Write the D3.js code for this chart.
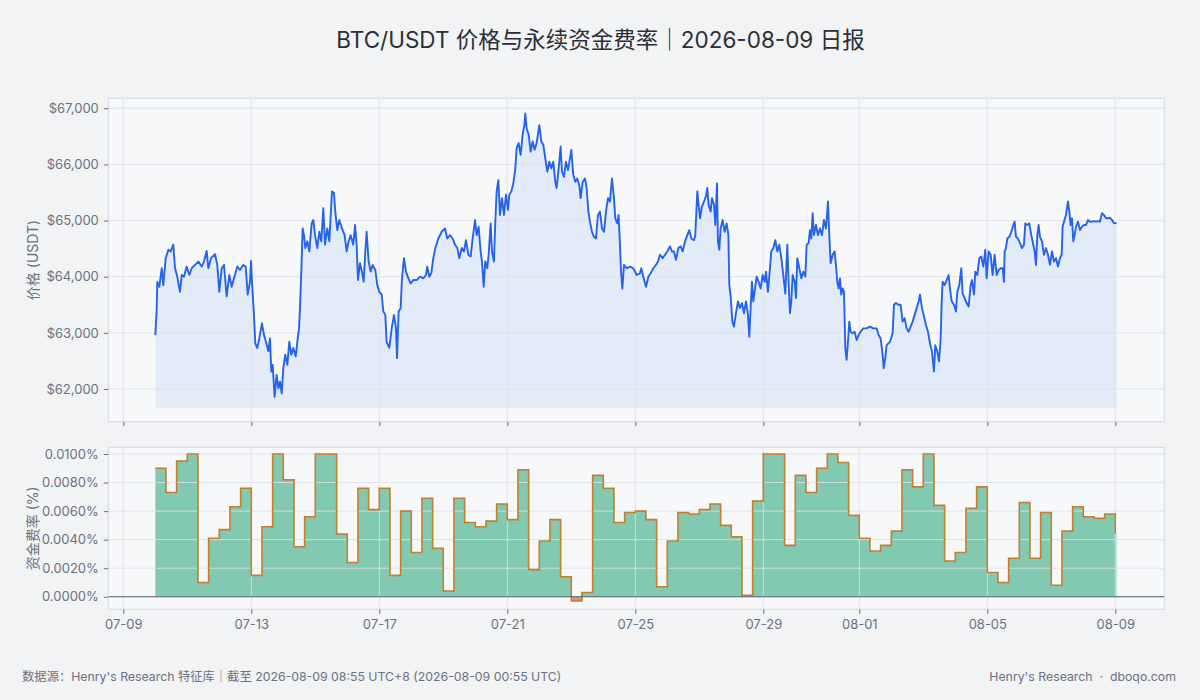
<!DOCTYPE html>
<html><head><meta charset="utf-8">
<script src="https://cdn.jsdelivr.net/npm/d3@7/dist/d3.min.js"></script>
<style>
body{margin:0;background:#f2f3f5;}
svg{display:block;font-family:Inter,"Noto Sans CJK SC","Noto Sans",sans-serif;}
</style></head><body>
<svg id="chart" width="1200" height="700"></svg>
<script>
// ---------------- data ----------------
const START_UTC = Date.UTC(2026, 6, 10, 0, 0);   // 2026-07-10 00:00 UTC
// [hours since start, price USDT]
const pricePoints = [
[0,62960],[1.0,63380],[1.5,63910],[3.0,63820],[4.8,64150],[6.0,63850],[7.8,64330],[9.8,64480],[11.5,64450],[13.5,64570],[14.8,64150],[16.5,64000],[18.5,63730],[19.8,64030],[21.5,64000],[23.5,64180],[25.5,64030],[27.3,64150],[29.8,64210],[32.3,64270],[34.8,64180],[36.5,64270],[38.5,64460],[39.8,64150],[41.8,64330],[44.8,64400],[46.5,64210],[48.0,63730],[49.8,64150],[51.5,64210],[53.5,63650],[55.5,64030],[57.3,63820],[59.3,64000],[61.5,64180],[63.5,64120],[66.0,64210],[67.8,64180],[69.3,63680],[71.0,63910],[71.8,64280],[72.8,63790],[74.0,63320],[75.0,62810],[76.5,62730],[78.0,62900],[80.0,63170],[81.5,62960],[83.0,62840],[84.8,62670],[86.0,62900],[87.0,62310],[88.0,62430],[89.5,61860],[91.0,62250],[92.3,62010],[93.5,62130],[94.8,61920],[96.0,62370],[97.5,62610],[99.0,62430],[100.5,62840],[102.0,62610],[103.5,62730],[105.3,62580],[106.5,62840],[107.8,63080],[108.5,63440],[109.5,64090],[110.5,64860],[111.5,64740],[112.5,64510],[114.0,64630],[115.5,64450],[117.3,64950],[118.5,65010],[119.8,64740],[121.5,64510],[123.0,64800],[124.5,64630],[126.0,65220],[127.3,64570],[129.0,64860],[130.5,64630],[132.5,65520],[134.0,65490],[135.0,65160],[136.5,64830],[138.0,65010],[140.0,64860],[142.0,64740],[143.5,64450],[145.0,64630],[146.5,64740],[148.5,64570],[149.8,64920],[151.0,64570],[152.0,63940],[153.5,64240],[155.0,64090],[156.3,63910],[157.5,64450],[158.5,64800],[160.0,64270],[161.5,64090],[163.0,64210],[165.0,64120],[166.5,63850],[168.0,63730],[169.8,63680],[171.0,63380],[172.5,63320],[173.5,62840],[175.5,62730],
[177.3,63080],[179.0,63320],[180.5,63080],[181.3,62550],[182.5,63380],[184.0,63440],[185.0,63970],[186.5,64330],[188.0,64090],[189.8,63970],[191.5,63880],[193.5,63940],[196.0,63940],[198.5,64000],[201.0,63970],[203.0,64030],[204.0,64180],[205.5,64000],[207.0,64060],[208.5,64330],[210.0,64510],[212.3,64680],[214.8,64800],[217.3,64860],[219.0,64680],[221.0,64740],[223.0,64680],[224.8,64570],[226.5,64510],[228.0,64330],[229.8,64510],[231.5,64450],[233.0,64650],[234.8,64390],[236.5,64360],[238.0,64680],[239.8,65010],[241.0,64740],[242.5,64890],[244.0,64450],[245.0,64270],[246.3,63820],[247.5,64270],[249.0,64150],[250.0,64390],[251.5,64950],[252.5,64450],[254.0,64270],[255.0,64980],[256.0,65520],[257.3,65720],[258.5,65100],[260.0,65400],[261.5,65100],[263.0,65460],[264.5,65190],[265.5,65460],[267.0,65520],[268.5,65660],[270.0,65930],[271.0,66290],[272.5,66380],[274.0,66170],[275.5,66530],[276.8,66700],[277.5,66910],[278.5,66640],[280.0,66530],[281.5,66230],[283.0,66410],[284.5,66260],[286.0,66380],[288.0,66700],[289.5,66410],[291.0,66350],[292.5,66110],[294.0,65870],[295.5,66050],[297.0,65930],[298.5,66050],[300.0,65690],[301.0,65580],[302.5,65930],[304.0,66320],[305.0,65870],[306.5,65780],[308.0,66050],[309.5,65900],[311.0,66110],[312.0,66260],[313.5,65810],[315.0,65690],[316.5,65750],[318.0,65630],[319.0,65400],[320.5,65690],[322.3,65750],[323.5,65580],[324.8,65160],[326.0,64980],[327.5,64800],[329.0,64710],[330.5,64680],[332.0,65100],[333.5,65160],[335.0,64860],[336.5,64800],[338.0,65160],[339.5,65400],[341.0,65340],[342.5,65750],[344.0,65400],[345.0,65040],[346.5,64950],[347.5,65100],[348.5,64570],[349.3,64090],[350.3,63790],[351.5,64210],[353.5,64150],[356.0,64180],[358.5,64150],[361.0,64030],[363.5,64060],
[364.5,64150],[366.0,64000],[368.0,63820],[369.8,64000],[371.5,64060],[373.5,64150],[375.5,64210],[377.0,64270],[378.5,64390],[380.5,64330],[382.3,64390],[384.0,64450],[386.0,64540],[387.5,64450],[389.0,64450],[390.5,64300],[392.3,64510],[394.0,64540],[395.5,64450],[397.3,64630],[399.0,64740],[400.5,64830],[402.0,64680],[404.0,64650],[405.0,64740],[405.8,65160],[406.5,65520],[407.5,65280],[408.5,65040],[410.0,65250],[411.5,65340],[413.0,65430],[414.0,65580],[415.0,65280],[416.5,65160],[417.5,65400],[419.0,65280],[420.0,64920],[421.3,65660],[422.0,64630],[423.0,64480],[424.0,64860],[425.5,65010],[427.0,64800],[428.5,64950],[429.8,64740],[430.5,63850],[431.5,63650],[432.8,63200],[434.0,63110],[435.5,63350],[437.0,63560],[438.5,63440],[440.0,63530],[441.5,63350],[443.0,63560],[444.5,63320],[445.5,62930],[446.5,63440],[447.5,63910],[448.5,63560],[449.8,63790],[451.0,64000],[452.5,63910],[454.0,63790],[455.5,64030],[457.0,63910],[458.0,64090],[459.5,63730],[461.0,64150],[462.0,64450],[463.5,64510],[465.0,64650],[466.5,64450],[468.0,64570],[469.5,64330],[471.0,64030],[472.5,63700],[474.0,64570],[475.0,63910],[476.0,63350],[477.0,63560],[478.0,64030],[479.5,63910],[480.5,63620],[481.5,64330],[483.0,64150],[484.5,63970],[486.0,64090],[487.5,64000],[488.5,64570],[490.0,64600],[491.0,64830],[492.0,64680],[493.0,65130],[494.0,64740],[495.5,64920],[497.0,64740],[498.5,64860],[500.0,64740],[501.5,65010],[503.0,64860],[504.5,65340],[505.5,64740],[506.5,64240],[508.0,64390],[509.5,64450],[510.5,64210],[511.5,63910],[512.5,63790],[513.5,63970],[514.5,63680],[515.5,63790],[516.5,63730],[517.5,62730],[518.5,62520],[519.5,62840],[520.5,63200],[521.5,63020],[523.0,62990],[524.5,63020],[526.0,62870],[527.5,62960],[529.0,63020],[531.0,63080],[533.5,63080],[536.0,63110],[538.5,63080],[541.0,63080],[542.5,62960],[544.0,62900],[545.5,62610],[546.3,62370],[547.5,62550],[548.5,62780],[551.0,62840],
[553.0,62990],[554.0,63500],[555.5,63530],[557.3,63500],[559.0,63500],[560.5,63200],[562.0,63260],[563.5,63080],[565.0,63020],[566.5,63110],[568.0,63200],[569.5,63320],[571.0,63440],[572.5,63560],[573.5,63680],[575.0,63440],[576.5,63290],[578.0,63140],[579.5,63020],[581.0,62810],[582.5,62670],[584.0,62310],[585.0,62780],[586.5,62670],[587.8,62490],[589.0,62900],[589.8,63560],[590.5,63910],[592.0,63850],[593.5,63940],[595.0,64030],[596.0,63790],[597.3,63560],[599.0,63500],[600.5,63380],[601.5,63730],[603.0,63850],[604.5,64150],[605.5,63700],[607.0,63620],[608.5,63530],[610.0,63470],[611.5,63850],[612.5,63940],[614.0,63680],[615.0,64090],[616.5,64030],[618.0,64330],[619.5,64360],[621.0,64180],[622.5,64480],[623.5,63970],[625.0,64450],[626.5,64390],[628.0,64030],[629.5,64390],[631.0,64030],[632.5,64120],[634.0,64150],[635.5,64150],[636.5,63910],[637.0,64450],[638.0,64510],[639.0,64680],[640.5,64710],[642.0,64800],[643.5,64920],[644.5,64980],[645.5,64710],[647.0,64680],[648.5,64600],[650.0,64510],[651.5,64570],[652.5,64950],[654.0,64920],[655.5,64950],[657.0,64740],[658.5,64570],[659.5,64450],[660.5,64210],[661.5,64740],[662.5,64920],[663.5,64710],[665.0,64630],[666.5,64390],[668.0,64510],[669.5,64390],[671.0,64210],[672.5,64450],[674.0,64270],[675.5,64330],[677.0,64180],[678.5,64330],[679.8,64390],[680.5,64890],[681.5,64980],[683.0,65100],[684.5,65340],[685.5,65160],[686.5,64920],[687.5,65040],[688.5,64630],[689.5,64740],[690.5,64890],[692.0,64980],[693.5,64830],[695.0,64890],[696.5,64920],[698.0,64920],[699.5,65010],[701.0,64980],[702.5,64980],[704.0,64990],[705.5,64980],[707.0,64990],[708.5,64980],[710.0,65130],[711.5,65100],[713.0,65040],[714.5,65040],[716.0,65050],[717.5,65010],[719.0,64950],[720.9,64960]
];
// 8-hourly funding rate, in percent
const fundingRates = [
0.0090,0.0073,0.0095,0.0100,0.0010,0.0041,0.0047,0.0063,0.0076,0.0015,
0.0049,0.0100,0.0082,0.0035,0.0056,0.0100,0.0100,0.0044,0.0024,0.0076,
0.0061,0.0076,0.0015,0.0060,0.0031,0.0069,0.0034,0.0004,0.0069,0.0052,
0.0049,0.0053,0.0065,0.0054,0.0089,0.0019,0.0039,0.0054,0.0014,-0.0003,
0.0003,0.0085,0.0076,0.0052,0.0059,0.0060,0.0054,0.0007,0.0039,0.0059,
0.0058,0.0061,0.0065,0.0050,0.0042,0.0001,0.0067,0.0100,0.0100,0.0036,
0.0085,0.0073,0.0090,0.0100,0.0094,0.0057,0.0041,0.0032,0.0036,0.0046,
0.0089,0.0077,0.0100,0.0064,0.0025,0.0031,0.0062,0.0077,0.0017,0.0010,
0.0027,0.0066,0.0027,0.0059,0.0008,0.0046,0.0063,0.0056,0.0055,0.0058,
0.0044
];
const FUNDING_STEP_HOURS = 8;
const DATA_END_HOURS = 720.9;
const AREA_BASE = 61660;
const priceTicks = [62000, 63000, 64000, 65000, 66000, 67000];
const fundingTicks = [0, 0.002, 0.004, 0.006, 0.008, 0.010];
const dateTicks = ["2026-07-09","2026-07-13","2026-07-17","2026-07-21","2026-07-25","2026-07-29","2026-08-01","2026-08-05","2026-08-09"];
const TITLE = "BTC/USDT 价格与永续资金费率｜2026-08-09 日报";
const FOOT_LEFT = "数据源：Henry's Research 特征库｜截至 2026-08-09 08:55 UTC+8 (2026-08-09 00:55 UTC)";
const FOOT_RIGHT = "Henry's Research  ·  dboqo.com";

// ---------------- layout ----------------
const H = 3600 * 1000;
const toDate = h => new Date(START_UTC + h * H);
const L = 108.3, R = 1164.3;
const P1 = {top: 98.3, bottom: 421.7};
const P2 = {top: 447.3, bottom: 609.3};
const FONT = 'Inter,"Noto Sans CJK SC","Noto Sans",sans-serif';
const C = {
  text: "#6b7280", tick: "#6b7280", grid: "#dfe2e8", frame: "#d6dae1",
  axBg: "#f7f8fa", price: "#2563eb", green: "#82c9b1", red: "#e58a7c",
  step: "#c27f2e", zero: "#555b63", title: "#2b2f36"
};

const svg = d3.select("#chart");
svg.append("rect").attr("width",1200).attr("height",700).attr("fill","#f2f3f5");

const x = d3.scaleUtc().domain([toDate(-35.25), toDate(756.75)]).range([L, R]);
const yP = d3.scaleLinear().domain([61417, 67178]).range([P1.bottom, P1.top]);
const yF = d3.scaleLinear().domain([-0.00088, 0.01047]).range([P2.bottom, P2.top]);
const tickDates = dateTicks.map(s => new Date(s + "T00:00:00Z"));
const fmtDate = d3.utcFormat("%m-%d");
const fmtPrice = v => "$" + d3.format(",")(v);
const fmtRate = v => v.toFixed(4) + "%";

function panel(p) {
  svg.append("rect").attr("x",L).attr("y",p.top).attr("width",R-L).attr("height",p.bottom-p.top).attr("fill",C.axBg);
}
function grid(p, yScale, yTicks) {
  const g = svg.append("g").attr("stroke", C.grid).attr("stroke-width",1).attr("opacity",0.85);
  yTicks.forEach(t => g.append("line").attr("x1",L).attr("x2",R).attr("y1",yScale(t)).attr("y2",yScale(t)));
  tickDates.forEach(d => g.append("line").attr("x1",x(d)).attr("x2",x(d)).attr("y1",p.top).attr("y2",p.bottom));
}
function axes(p, yScale, yTicks, yFmt, showX) {
  svg.append("rect").attr("x",L).attr("y",p.top).attr("width",R-L).attr("height",p.bottom-p.top)
    .attr("fill","none").attr("stroke",C.frame).attr("stroke-width",1);
  const ya = d3.axisLeft(yScale).tickValues(yTicks).tickFormat(yFmt).tickSize(4.5).tickPadding(5);
  const gy = svg.append("g").attr("transform",`translate(${L},0)`).call(ya);
  gy.select(".domain").remove();
  gy.selectAll("line").attr("stroke",C.tick);
  gy.selectAll("text").attr("fill",C.text).attr("font-size",13).attr("font-family",FONT);
  const xa = d3.axisBottom(x).tickValues(tickDates).tickFormat(showX ? fmtDate : "").tickSize(4.5).tickPadding(6);
  const gx = svg.append("g").attr("transform",`translate(0,${p.bottom})`).call(xa);
  gx.select(".domain").remove();
  gx.selectAll("line").attr("stroke",C.tick);
  gx.selectAll("text").attr("fill",C.text).attr("font-size",13).attr("font-family",FONT);
}

// ---- price panel ----
panel(P1);
svg.append("path").datum(pricePoints)
  .attr("d", d3.area().x(d => x(toDate(d[0]))).y0(yP(AREA_BASE)).y1(d => yP(d[1])))
  .attr("fill", C.price).attr("fill-opacity", 0.09);
grid(P1, yP, priceTicks);
svg.append("path").datum(pricePoints)
  .attr("d", d3.line().x(d => x(toDate(d[0]))).y(d => yP(d[1])))
  .attr("fill","none").attr("stroke",C.price).attr("stroke-width",1.9).attr("stroke-linejoin","round");
axes(P1, yP, priceTicks, fmtPrice, false);

// ---- funding panel ----
panel(P2);
const fPts = fundingRates.map((v, i) => [i * FUNDING_STEP_HOURS, v]);
const fFill = fPts.concat([[DATA_END_HOURS, fundingRates[fundingRates.length - 1]]]);
const stepArea = fn => d3.area().curve(d3.curveStepAfter)
  .x(d => x(toDate(d[0]))).y0(yF(0)).y1(d => yF(fn(d[1])));
svg.append("path").datum(fFill).attr("d", stepArea(v => Math.max(v, 0))).attr("fill", C.green);
svg.append("path").datum(fFill).attr("d", stepArea(v => Math.min(v, 0))).attr("fill", C.red);
grid(P2, yF, fundingTicks);
svg.append("path").datum(fPts)
  .attr("d", d3.line().curve(d3.curveStepAfter).x(d => x(toDate(d[0]))).y(d => yF(d[1])))
  .attr("fill","none").attr("stroke",C.step).attr("stroke-width",1.6);
svg.append("line").attr("x1",L).attr("x2",R).attr("y1",yF(0)).attr("y2",yF(0))
  .attr("stroke",C.zero).attr("stroke-width",1.2);
axes(P2, yF, fundingTicks, fmtRate, true);

// ---- texts ----
svg.append("text").attr("x",600.5).attr("y",48).attr("text-anchor","middle")
  .attr("font-size",22.5).attr("fill",C.title).text(TITLE);
svg.append("text").attr("transform",`translate(38,${(P1.top+P1.bottom)/2}) rotate(-90)`)
  .attr("text-anchor","middle").attr("font-size",14).attr("fill",C.text).text("价格 (USDT)");
svg.append("text").attr("transform",`translate(38,${(P2.top+P2.bottom)/2}) rotate(-90)`)
  .attr("text-anchor","middle").attr("font-size",14).attr("fill",C.text).text("资金费率 (%)");
svg.append("text").attr("x",22).attr("y",681).attr("font-size",12.3).attr("fill",C.text).text(FOOT_LEFT);
svg.append("text").attr("x",1176).attr("y",681).attr("text-anchor","end").attr("font-size",12.3)
  .attr("fill",C.text).style("white-space","pre").text(FOOT_RIGHT);
</script>
</body></html>
